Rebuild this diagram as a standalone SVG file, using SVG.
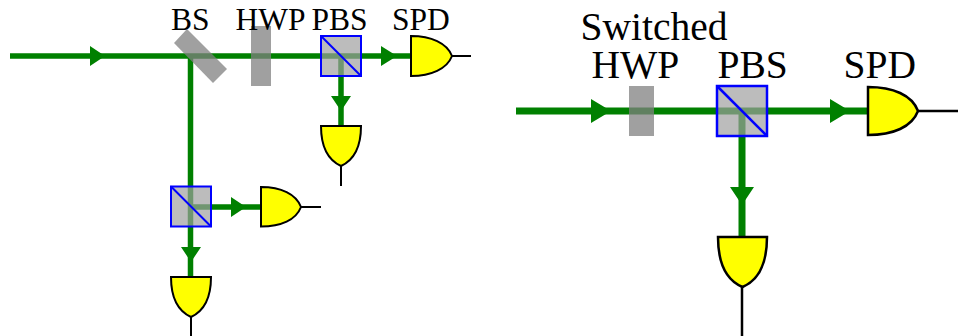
<svg xmlns="http://www.w3.org/2000/svg" width="958" height="336" viewBox="0 0 958 336">
<style>
.t{font-family:"Liberation Serif","Times New Roman",serif;fill:#000}
.s{font-size:31.500px}.b{font-size:39.500px}
.g{fill:none;stroke:#008000;stroke-width:5.500}
.g2{fill:none;stroke:#008000;stroke-width:7}
.a{fill:#008000;stroke:none}
.w{fill:#808080;fill-opacity:.75;stroke:none}
.c{fill:#a0a0a0;fill-opacity:.7;stroke:#00f;stroke-width:2}
.c2{fill:none;stroke:#00f;stroke-width:2}
.c3{fill:#a0a0a0;fill-opacity:.7;stroke:#00f;stroke-width:2.500}
.c4{fill:none;stroke:#00f;stroke-width:2.500}
.d{fill:#ff0;stroke:#000;stroke-width:2}
.l{fill:none;stroke:#000;stroke-width:2}
.d2{fill:#ff0;stroke:#000;stroke-width:2.500}
.l2{fill:none;stroke:#000;stroke-width:2.500}
</style>
<g id="connectors">
<path class="g" d="M10 56H411M341 56V126M190.500 56V277M191 207H261"/>
<path class="a" d="M90 46L105 56L90 66ZM381 46L397 56L381 66ZM331 96H351L341 111ZM231 197L246 207L231 217ZM181 247H201L191 262Z"/>
<path class="g2" d="M516 111H868M742 111V237"/>
<path class="a" d="M591 99L611 111L591 123ZM830 99L850 111L830 123ZM730 187H754L742 205Z"/>
</g>
<g id="bs"><path class="w" d="M187 29L227 69L213 83L174 43Z"/><text class="t s" x="171" y="30">BS</text></g>
<g id="hwp1"><rect class="w" x="251" y="26" width="20" height="60"/><text class="t s" x="235.500" y="30">HWP</text></g>
<g id="pbs1"><rect class="c" x="321" y="36" width="40" height="40"/><path class="c2" d="M321 36L361 76"/><text class="t s" x="311.500" y="30">PBS</text></g>
<g id="spd1"><path class="d" d="M411 36V76C431 76 447 69 452 56C447 43 431 36 411 36Z"/><path class="l" d="M452 56H471"/><text class="t s" x="392" y="30">SPD</text></g>
<g id="spd2"><path class="d" d="M321 126H361C361 146 354 160 341 166C328 160 321 146 321 126Z"/><path class="l" d="M341 166V186"/></g>
<g id="pbs2"><rect class="c" x="171" y="186.500" width="40" height="40"/><path class="c2" d="M171 186.500L211 226.500"/></g>
<g id="spd3"><path class="d" d="M261 187V226.500C281 226.500 296 220 301 207C296 194 281 187 261 187Z"/><path class="l" d="M301 207H321"/></g>
<g id="spd4"><path class="d" d="M171 277H211C211 297 204 311 191 317C178 311 171 297 171 277Z"/><path class="l" d="M191 317V336"/></g>
<g id="switched"><text class="t b" x="580.500" y="40">Switched</text></g>
<g id="hwp2"><rect class="w" x="629" y="86" width="25" height="50"/><text class="t b" x="591.500" y="78">HWP</text></g>
<g id="pbs3"><rect class="c3" x="717" y="86" width="50" height="50"/><path class="c4" d="M717 86L767 136"/><text class="t b" x="717.500" y="78">PBS</text></g>
<g id="spd5"><path class="d2" d="M868 87V135C893 135 912 127 918 111C912 95 893 87 868 87Z"/><path class="l2" d="M918 111H958"/><text class="t b" x="843.500" y="78">SPD</text></g>
<g id="spd6"><path class="d2" d="M718 237H767C767 262 759 280 742.500 287C726 280 718 262 718 237Z"/><path class="l2" d="M742 287V336"/></g>
</svg>
